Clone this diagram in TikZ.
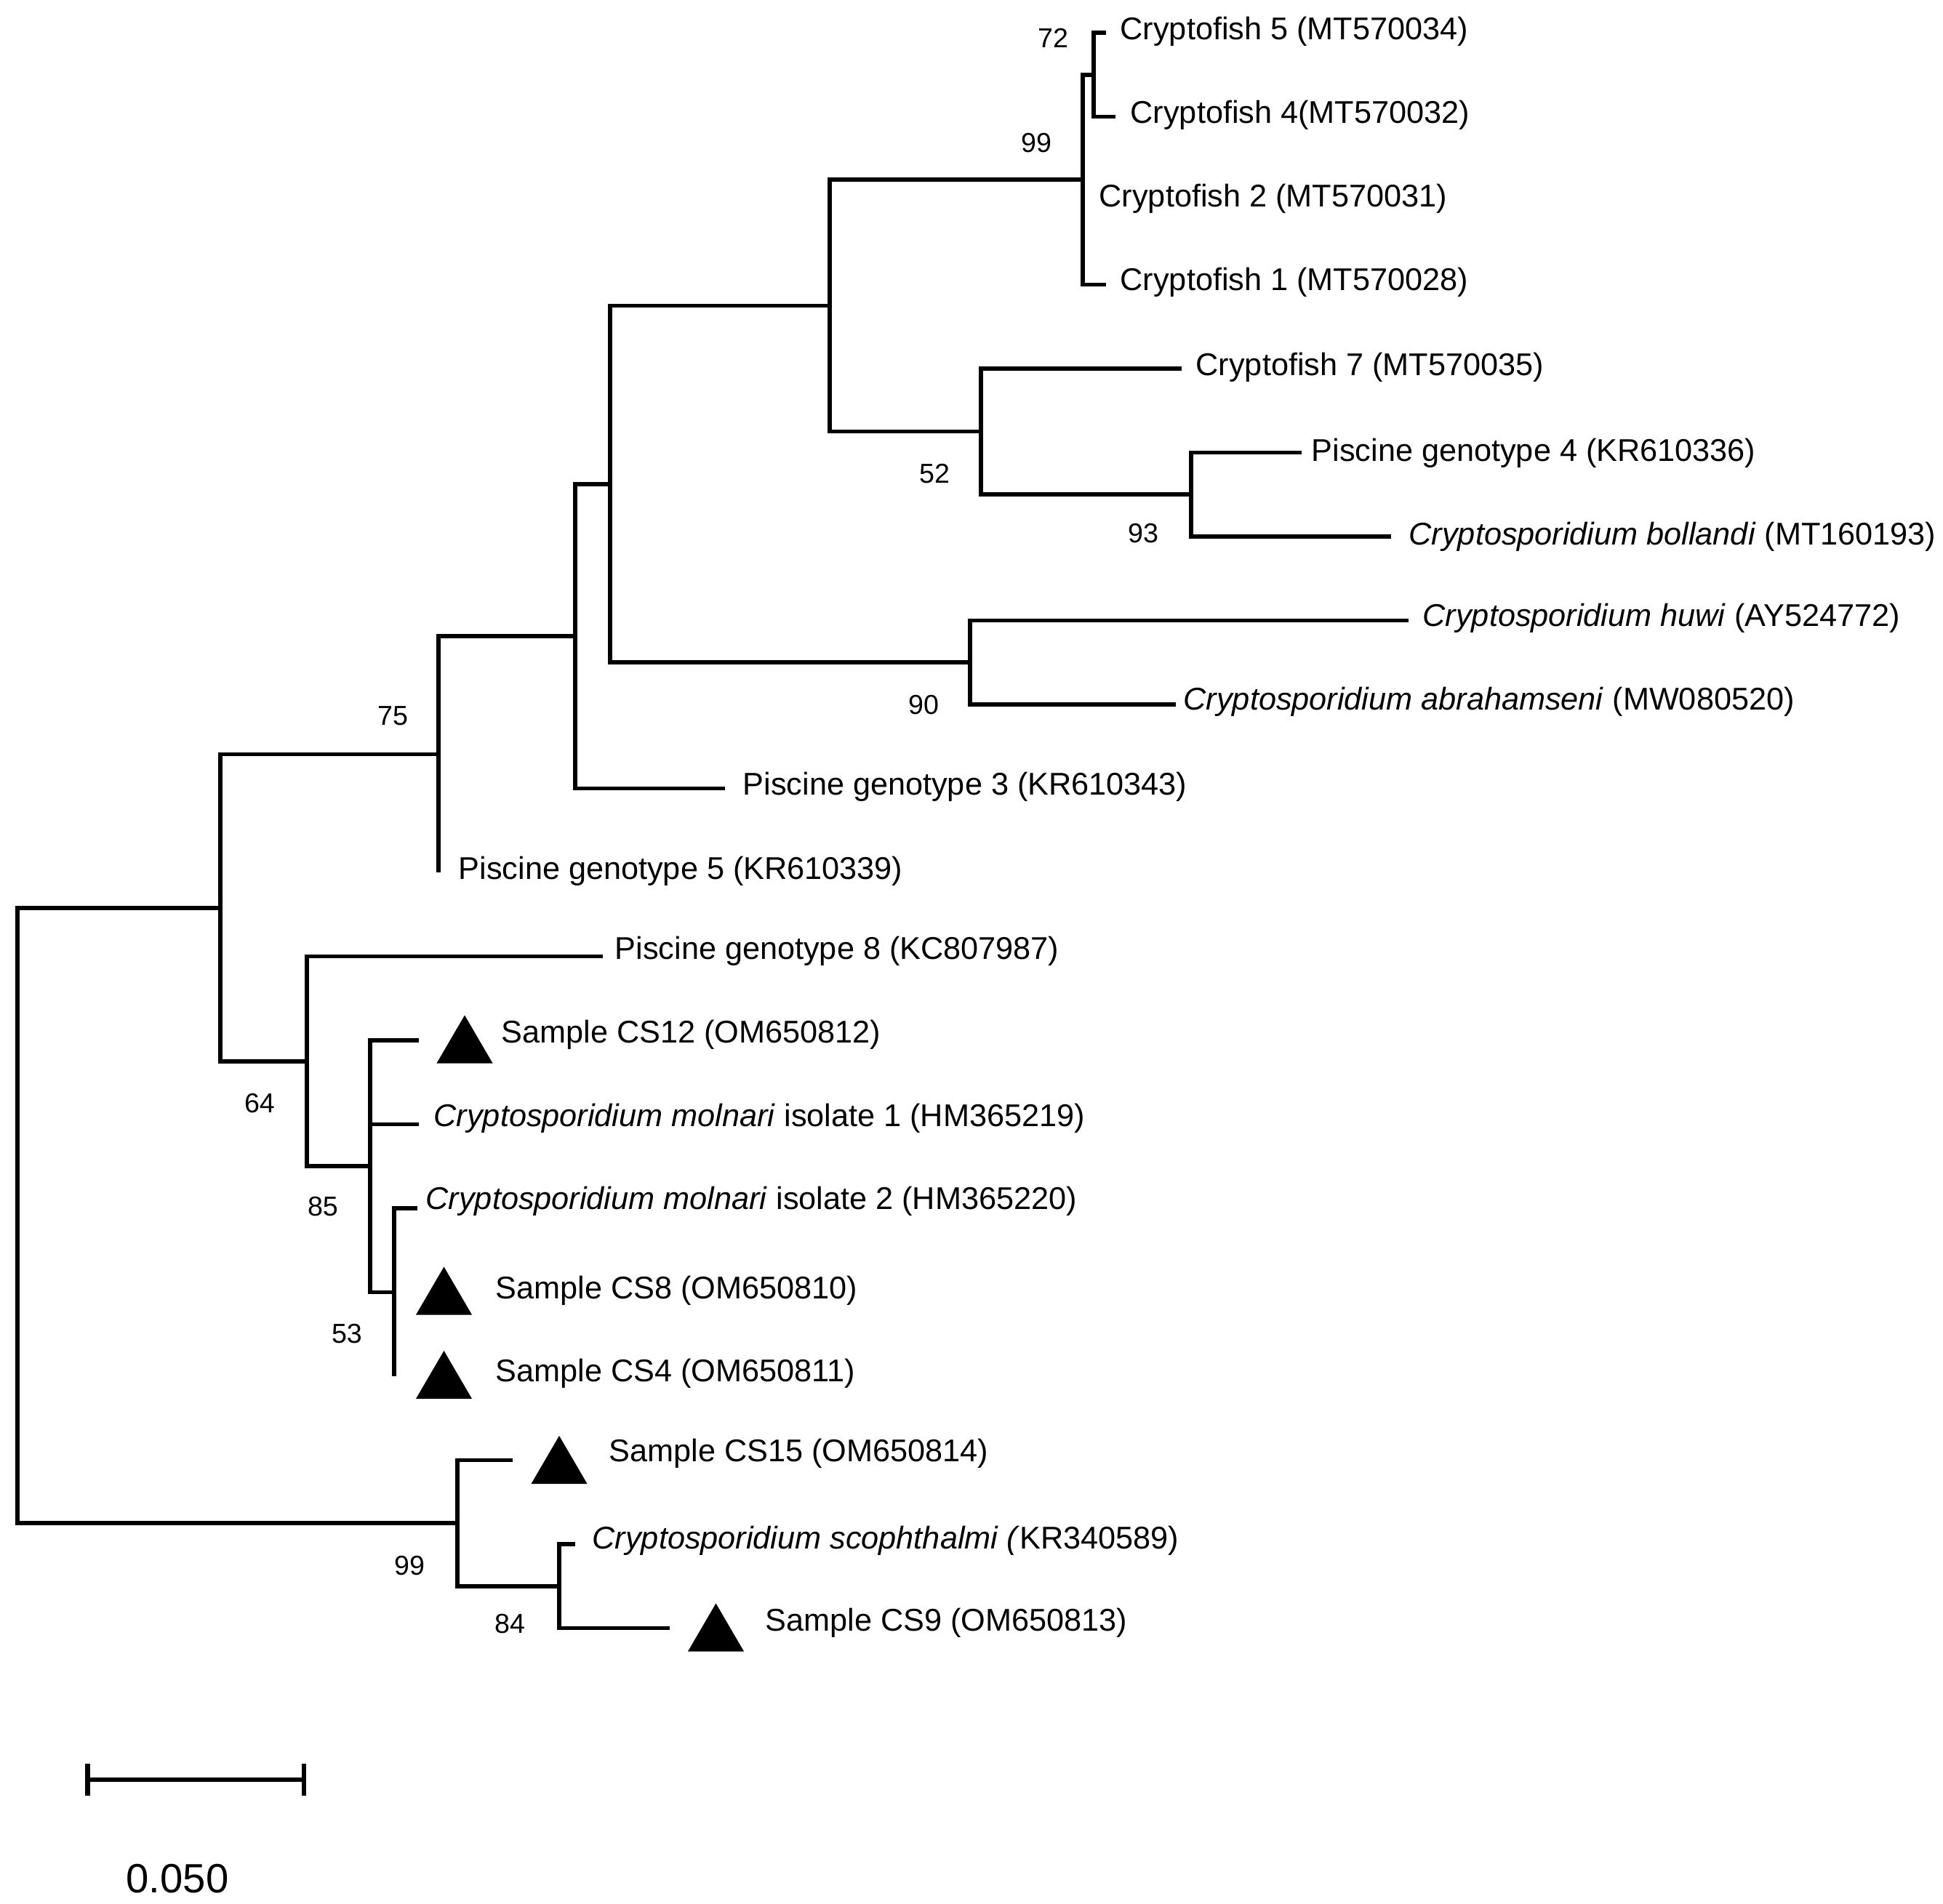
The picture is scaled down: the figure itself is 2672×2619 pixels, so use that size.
\documentclass[tikz,border=0pt]{standalone}
\usepackage{fontspec}
\setmainfont{Liberation Sans}
\begin{document}
\begin{tikzpicture}[x=0.01cm,y=-0.01cm,
  branch/.style={line width=1.6pt, line join=miter},
  leaf/.style={anchor=base west, inner sep=0pt, font=\fontsize{12.3}{14}\selectfont},
  boot/.style={inner sep=0pt, font=\fontsize{10.7}{12}\selectfont},
  sampletri/.pic={\fill (-38.5,33) -- (38.5,33) -- (0,-33) -- cycle;}]
\useasboundingbox (0,0) rectangle (2672,2619);
% internal nodes
\coordinate (root) at (24,1671.9);
\coordinate (n1) at (303,1248.7);
\coordinate (n2) at (603,1037.6);
\coordinate (n3) at (791,875.2);
\coordinate (n4) at (839,665.8);
\coordinate (n5) at (1141,420.4);
\coordinate (n6) at (1489,247.1);
\coordinate (n6a) at (1504,102.75);
\coordinate (n7) at (1349,593.6);
\coordinate (n8) at (1638,680.25);
\coordinate (n9) at (1334,911.25);
\coordinate (n10) at (422,1459.9);
\coordinate (n11) at (509,1604.25);
\coordinate (n12) at (542,1777.5);
\coordinate (n13) at (629,2095.1);
\coordinate (n14) at (769,2181.75);
% tips
\coordinate (tC5) at (1521,45);
\coordinate (tC4) at (1534,160.5);
\coordinate (tC2) at (1489,276);
\coordinate (tC1) at (1521,391.5);
\coordinate (tC7) at (1625,507);
\coordinate (tPG4) at (1790,622.5);
\coordinate (tBol) at (1913,738);
\coordinate (tHuw) at (1937,853.5);
\coordinate (tAbr) at (1617,969);
\coordinate (tPG3) at (997,1084.5);
\coordinate (tPG5) at (603,1200);
\coordinate (tPG8) at (829,1315.5);
\coordinate (tCS12) at (576,1431);
\coordinate (tMol1) at (576,1546.5);
\coordinate (tMol2) at (574,1662);
\coordinate (tCS8) at (542,1777.5);
\coordinate (tCS4) at (542,1893);
\coordinate (tCS15) at (705,2008.5);
\coordinate (tSco) at (791,2124);
\coordinate (tCS9) at (921,2239.5);
% branches
\draw[branch] (root) |- (n1);
\draw[branch] (root) |- (n13);
\draw[branch] (n1) |- (n2);
\draw[branch] (n1) |- (n10);
\draw[branch] (n2) |- (n3);
\draw[branch] (n2) |- (tPG5);
\draw[branch] (n3) |- (n4);
\draw[branch] (n3) |- (tPG3);
\draw[branch] (n4) |- (n5);
\draw[branch] (n4) |- (n9);
\draw[branch] (n5) |- (n6);
\draw[branch] (n5) |- (n7);
\draw[branch] (n6) |- (n6a);
\draw[branch] (n6) |- (tC2);
\draw[branch] (n6) |- (tC1);
\draw[branch] (n6a) |- (tC5);
\draw[branch] (n6a) |- (tC4);
\draw[branch] (n7) |- (tC7);
\draw[branch] (n7) |- (n8);
\draw[branch] (n8) |- (tPG4);
\draw[branch] (n8) |- (tBol);
\draw[branch] (n9) |- (tHuw);
\draw[branch] (n9) |- (tAbr);
\draw[branch] (n10) |- (tPG8);
\draw[branch] (n10) |- (n11);
\draw[branch] (n11) |- (tCS12);
\draw[branch] (n11) |- (tMol1);
\draw[branch] (n11) |- (n12);
\draw[branch] (n12) |- (tMol2);
\draw[branch] (n12) |- (tCS8);
\draw[branch] (n12) |- (tCS4);
\draw[branch] (n13) |- (tCS15);
\draw[branch] (n13) |- (n14);
\draw[branch] (n14) |- (tSco);
\draw[branch] (n14) |- (tCS9);
% leaf labels
\node[leaf] (lC5) at (1540,55) {Cryptofish 5 (MT570034)};
\node[leaf] (lC4) at (1554,170) {Cryptofish 4(MT570032)};
\node[leaf] (lC2) at (1511,285) {Cryptofish 2 (MT570031)};
\node[leaf] (lC1) at (1540,400) {Cryptofish 1 (MT570028)};
\node[leaf] (lC7) at (1644,517) {Cryptofish 7 (MT570035)};
\node[leaf] (lPG4) at (1803,635) {Piscine genotype 4 (KR610336)};
\node[leaf] (lBol) at (1937,750) {\textit{Cryptosporidium bollandi} (MT160193)};
\node[leaf] (lHuw) at (1956,862) {\textit{Cryptosporidium huwi} (AY524772)};
\node[leaf] (lAbr) at (1627,977) {\textit{Cryptosporidium abrahamseni} (MW080520)};
\node[leaf] (lPG3) at (1021,1094) {Piscine genotype 3 (KR610343)};
\node[leaf] (lPG5) at (630,1210) {Piscine genotype 5 (KR610339)};
\node[leaf] (lPG8) at (845,1319) {Piscine genotype 8 (KC807987)};
\node[leaf] (lCS12) at (689,1434) {Sample CS12 (OM650812)};
\node[leaf] (lMol1) at (596,1549) {\textit{Cryptosporidium molnari} isolate 1 (HM365219)};
\node[leaf] (lMol2) at (585,1663) {\textit{Cryptosporidium molnari} isolate 2 (HM365220)};
\node[leaf] (lCS8) at (681,1786) {Sample CS8 (OM650810)};
\node[leaf] (lCS4) at (681,1900) {Sample CS4 (OM650811)};
\node[leaf] (lCS15) at (837,2010) {Sample CS15 (OM650814)};
\node[leaf] (lSco) at (814,2130) {\textit{Cryptosporidium scophthalmi (}KR340589)};
\node[leaf] (lCS9) at (1052,2243) {Sample CS9 (OM650813)};
% sample markers
\pic at (639,1429.5) {sampletri};
\pic at (610.5,1775.5) {sampletri};
\pic at (610.5,1891) {sampletri};
\pic at (769,2008) {sampletri};
\pic at (984.5,2238.5) {sampletri};
% bootstrap values
\node[boot] (b72) at (1448,52) {72};
\node[boot] (b99a) at (1425,197) {99};
\node[boot] (b52) at (1285,652) {52};
\node[boot] (b93) at (1572,734) {93};
\node[boot] (b90) at (1270,970) {90};
\node[boot] (b75) at (540,985) {75};
\node[boot] (b64) at (357,1518) {64};
\node[boot] (b85) at (444,1660) {85};
\node[boot] (b53) at (477,1835) {53};
\node[boot] (b99b) at (563,2154) {99};
\node[boot] (b84) at (701,2234) {84};
% scale bar
\coordinate (sbL) at (120.5,2448);
\coordinate (sbR) at (418,2448);
\draw[line width=1.9pt] (sbL) -- (sbR);
\draw[line width=1.9pt] ([yshift=0.22cm]sbL) -- ([yshift=-0.22cm]sbL);
\draw[line width=1.9pt] ([yshift=0.22cm]sbR) -- ([yshift=-0.22cm]sbR);
\node[inner sep=0pt, font=\fontsize{16}{18}\selectfont] (sbLabel) at (244,2584) {0.050};
\end{tikzpicture}
\end{document}
